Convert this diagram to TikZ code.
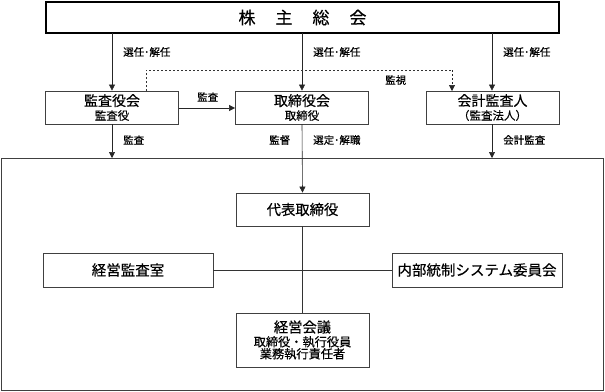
\documentclass[tikz,border=0pt]{standalone}
\usepackage{fontspec}
\setmainfont{Noto Sans CJK JP}[FakeBold=0.35]
\usetikzlibrary{arrows.meta}
\begin{document}
\begin{tikzpicture}[x=1pt,y=-1pt,
  box/.style={draw=black!75,line width=0.8pt,fill=white,inner sep=0pt,align=center},
  lbl/.style={font=\fontsize{10.5}{11}\selectfont,anchor=west,inner sep=0pt},
  arr/.style={-{Triangle[length=6pt,width=6pt]},line width=0.6pt,draw=black!85},
  ln/.style={line width=0.6pt,draw=black!80}]
\useasboundingbox (0,0) rectangle (605,391);
% outer frame
\node[box,minimum width=602pt,minimum height=232pt,anchor=north west] (frame) at (1,158) {};
% top
\node[box,draw=black,line width=2pt,minimum width=513pt,minimum height=31pt] (gm) at (302.5,17.5)
  {\fontsize{17}{18}\selectfont 株\hspace{20pt}主\hspace{20pt}総\hspace{20pt}会};
% middle row
\node[box,minimum width=133pt,minimum height=33pt] (kansa) at (112,107.5)
  {\fontsize{14}{15}\selectfont 監査役会\\[2pt]\fontsize{11.5}{13}\selectfont 監査役};
\node[box,minimum width=133pt,minimum height=33pt] (tori) at (302,107.5)
  {\fontsize{14}{15}\selectfont 取締役会\\[2pt]\fontsize{11.5}{13}\selectfont 取締役};
\node[box,minimum width=133pt,minimum height=33pt] (kaikei) at (492.5,107.5)
  {\fontsize{14}{15}\selectfont 会計監査人\\[2pt]\fontsize{11.5}{13}\selectfont （監査法人）};
% inner boxes
\node[box,minimum width=133pt,minimum height=33pt] (daihyo) at (302.5,209.5)
  {\fontsize{14.3}{16}\selectfont 代表取締役};
\node[box,minimum width=170pt,minimum height=34pt] (keiei) at (128,270)
  {\fontsize{14.5}{16}\selectfont 経営監査室};
\node[box,minimum width=170pt,minimum height=34pt] (naibu) at (477,270)
  {\fontsize{14.5}{16}\selectfont 内部統制システム委員会};
\node[box,minimum width=133pt,minimum height=54pt] (kaigi) at (302.5,340)
  {\fontsize{14.3}{16}\selectfont 経営会議\\[2pt]\fontsize{12.2}{13.5}\selectfont 取締役・執行役員\\\fontsize{12.2}{13.5}\selectfont 業務執行責任者};
% coordinates
\coordinate (c1) at (112,33);
\coordinate (c2) at (302,33);
\coordinate (c3) at (492,33);
\coordinate (b1) at (112,158);
\coordinate (b3) at (492,158);
\coordinate (d1) at (146,91);
\coordinate (d2) at (146,70);
\coordinate (d3) at (452,70);
\coordinate (d4) at (452,91);
% arrows from top
\draw[arr] (c1) -- (kansa.north -| c1);
\draw[arr] (c2) -- (tori.north);
\draw[arr] (c3) -- (kaikei.north -| c3);
\node[lbl] (l1) at (123,52) {選任･解任};
\node[lbl] (l2) at (313,52) {選任･解任};
\node[lbl] (l3) at (503,52) {選任･解任};
% dashed
\draw[ln,dash pattern=on 2pt off 2pt] (d1) -- (d2) -- (d3);
\draw[arr,dash pattern=on 2pt off 2pt] (d3) -- (d4);
\node[lbl] (l4) at (385,80) {監視};
% kansa -> tori
\draw[arr] (kansa.east |- 0,108) -- (tori.west |- 0,108);
\node[lbl] (l5) at (197,97) {監査};
% down arrows
\draw[arr] (kansa.south -| c1) -- (b1);
\draw[arr] (kaikei.south -| c3) -- (b3);
\draw[arr] (tori.south) -- (daihyo.north);
\node[lbl] (l6) at (123,140) {監査};
\node[lbl] (l7) at (269,140) {監督};
\node[lbl] (l8) at (313,140) {選定･解職};
\node[lbl] (l9) at (503,140) {会計監査};
% inner lines
\draw[ln] (daihyo.south) -- (kaigi.north);
\draw[ln] (keiei.east) -- (naibu.west);
\end{tikzpicture}
\end{document}
